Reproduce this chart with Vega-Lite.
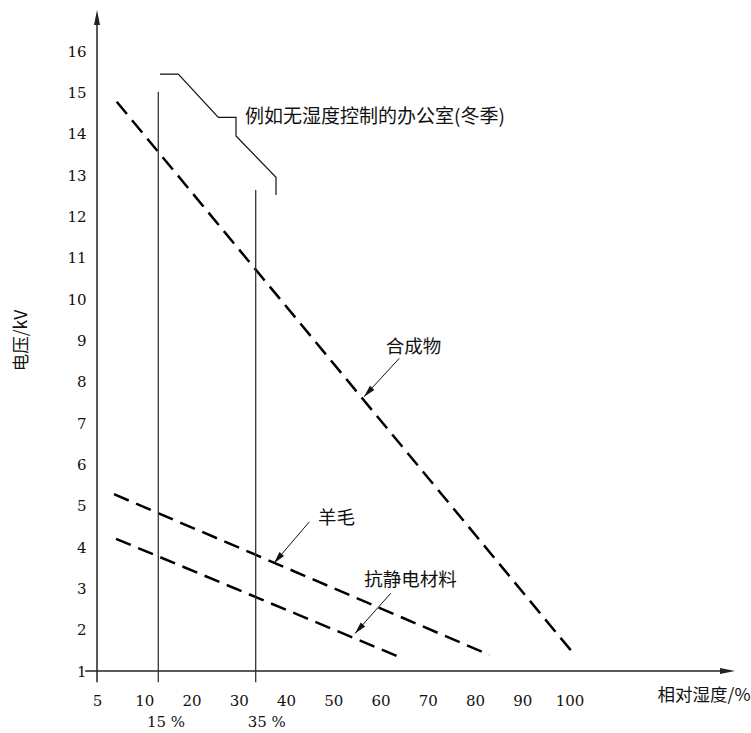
{
  "$schema": "https://vega.github.io/schema/vega-lite/v6.json",
  "width": 638,
  "height": 661,
  "autosize": "none",
  "padding": {"left": 97, "top": 10, "right": 16, "bottom": 62},
  "background": "white",
  "config": {
    "view": {"stroke": null},
    "axis": {
      "domain": false,
      "ticks": false,
      "tickSize": 0,
      "grid": false,
      "labelFont": "DejaVu Serif",
      "labelFontSize": 15,
      "labelColor": "#111111",
      "titleFont": "Noto Sans CJK SC",
      "titleFontWeight": "normal",
      "titleFontSize": 17.5,
      "titleColor": "#111111"
    }
  },
  "datasets": {
    "axes": [
      {"x": -2.5, "y": 1, "x2": 134, "y2": 1},
      {"x": 0, "y": 0.73, "x2": 0, "y2": 16.7}
    ],
    "axisHeads": [
      {"x": 0, "y": 17, "angle": 0},
      {"x": 135, "y": 1, "angle": 90}
    ],
    "curves": [
      {"series": "合成物", "humidity": 4.17, "voltage": 14.78},
      {"series": "合成物", "humidity": 100.78, "voltage": 1.43},
      {"series": "羊毛", "humidity": 3.6, "voltage": 5.28},
      {"series": "羊毛", "humidity": 83.01, "voltage": 1.39},
      {"series": "抗静电材料", "humidity": 4.02, "voltage": 4.2},
      {"series": "抗静电材料", "humidity": 63.75, "voltage": 1.35}
    ],
    "verticals": [
      {"humidity": 12.97, "low": 0.73, "high": 15.02},
      {"humidity": 33.58, "low": 0.73, "high": 12.64}
    ],
    "bracket": [
      {"i": 0, "humidity": 13.33, "voltage": 15.45},
      {"i": 1, "humidity": 17.2, "voltage": 15.45},
      {"i": 2, "humidity": 25.67, "voltage": 14.4},
      {"i": 3, "humidity": 29.41, "voltage": 14.4},
      {"i": 4, "humidity": 29.41, "voltage": 13.95},
      {"i": 5, "humidity": 37.88, "voltage": 12.95},
      {"i": 6, "humidity": 37.88, "voltage": 12.52}
    ],
    "pointers": [
      {"label": "合成物", "x": 63.97, "y": 8.57, "tx": 56.5, "ty": 7.64, "angle": 222.6},
      {"label": "羊毛", "x": 44.92, "y": 4.61, "tx": 37.45, "ty": 3.61, "angle": 220.3},
      {"label": "抗静电材料", "x": 62.15, "y": 2.88, "tx": 54.59, "ty": 1.91, "angle": 221.7}
    ],
    "labels": [
      {"text": "合成物", "humidity": 66.97, "voltage": 8.84},
      {"text": "羊毛", "humidity": 50.68, "voltage": 4.7},
      {"text": "抗静电材料", "humidity": 66.33, "voltage": 3.2}
    ],
    "note": [
      {"text": "例如无湿度控制的办公室(冬季)", "humidity": 31.32, "voltage": 14.41}
    ],
    "pct": [
      {"text": "15 %", "humidity": 14.6, "voltage": -0.23},
      {"text": "35 %", "humidity": 35.91, "voltage": -0.23}
    ]
  },
  "layer": [
    {
      "data": {"name": "axes"},
      "mark": {"type": "rule", "stroke": "#222222", "strokeWidth": 1.5},
      "encoding": {
        "x": {
          "field": "x", "type": "quantitative",
          "scale": {"domain": [0, 135], "nice": false, "zero": false},
          "axis": {
            "values": [0, 10, 20, 30, 40, 50, 60, 70, 80, 90, 100],
            "labelExpr": "datum.value == 0 ? '5' : datum.label",
            "labelBaseline": "alphabetic",
            "labelPadding": 34.5,
            "labelFlush": false,
            "labelOverlap": false,
            "title": "相对湿度/%",
            "titleX": 653,
            "titleY": 24,
            "titleAlign": "right",
            "titleBaseline": "middle"
          }
        },
        "y": {
          "field": "y", "type": "quantitative",
          "scale": {"domain": [1, 17], "nice": false, "zero": false},
          "axis": {
            "values": [1, 2, 3, 4, 5, 6, 7, 8, 9, 10, 11, 12, 13, 14, 15, 16],
            "labelPadding": 11,
            "labelBaseline": "middle",
            "labelFlush": false,
            "labelOverlap": false,
            "title": "电压/kV",
            "titleAngle": -90,
            "titleX": -76,
            "titleY": 330,
            "titleAlign": "center",
            "titleBaseline": "middle"
          }
        },
        "x2": {"field": "x2"},
        "y2": {"field": "y2"}
      }
    },
    {
      "data": {"name": "axisHeads"},
      "mark": {"type": "point", "shape": "M0,0 L0.6,3 L-0.6,3 Z", "filled": true, "fill": "#222222", "strokeWidth": 0, "size": 100, "opacity": 1},
      "encoding": {
        "x": {"field": "x", "type": "quantitative"},
        "y": {"field": "y", "type": "quantitative"},
        "angle": {"field": "angle", "type": "quantitative", "scale": null}
      }
    },
    {
      "data": {"name": "curves"},
      "mark": {"type": "line", "stroke": "#000000", "strokeWidth": 2.5, "strokeDash": [16, 8]},
      "encoding": {
        "x": {"field": "humidity", "type": "quantitative"},
        "y": {"field": "voltage", "type": "quantitative"},
        "detail": {"field": "series", "type": "nominal"}
      }
    },
    {
      "data": {"name": "verticals"},
      "mark": {"type": "rule", "stroke": "#333333", "strokeWidth": 1.3},
      "encoding": {
        "x": {"field": "humidity", "type": "quantitative"},
        "y": {"field": "low", "type": "quantitative"},
        "y2": {"field": "high"}
      }
    },
    {
      "data": {"name": "bracket"},
      "mark": {"type": "line", "stroke": "#111111", "strokeWidth": 1.2},
      "encoding": {
        "x": {"field": "humidity", "type": "quantitative"},
        "y": {"field": "voltage", "type": "quantitative"},
        "order": {"field": "i", "type": "quantitative"}
      }
    },
    {
      "data": {"name": "pointers"},
      "mark": {"type": "rule", "stroke": "#111111", "strokeWidth": 1},
      "encoding": {
        "x": {"field": "x", "type": "quantitative"},
        "y": {"field": "y", "type": "quantitative"},
        "x2": {"field": "tx"},
        "y2": {"field": "ty"}
      }
    },
    {
      "data": {"name": "pointers"},
      "mark": {"type": "point", "shape": "M0,0 L0.75,3 L-0.75,3 Z", "filled": true, "fill": "#111111", "strokeWidth": 0, "size": 64, "opacity": 1},
      "encoding": {
        "x": {"field": "tx", "type": "quantitative"},
        "y": {"field": "ty", "type": "quantitative"},
        "angle": {"field": "angle", "type": "quantitative", "scale": null}
      }
    },
    {
      "data": {"name": "labels"},
      "mark": {"type": "text", "font": "Noto Sans CJK SC", "fontSize": 18.5, "align": "center", "baseline": "middle", "fill": "#111111"},
      "encoding": {
        "x": {"field": "humidity", "type": "quantitative"},
        "y": {"field": "voltage", "type": "quantitative"},
        "text": {"field": "text"}
      }
    },
    {
      "data": {"name": "note"},
      "mark": {"type": "text", "font": "Noto Sans CJK SC", "fontSize": 19, "align": "left", "baseline": "middle", "fill": "#111111"},
      "encoding": {
        "x": {"field": "humidity", "type": "quantitative"},
        "y": {"field": "voltage", "type": "quantitative"},
        "text": {"field": "text"}
      }
    },
    {
      "data": {"name": "pct"},
      "mark": {"type": "text", "font": "DejaVu Serif", "fontSize": 15, "align": "center", "baseline": "middle", "fill": "#111111"},
      "encoding": {
        "x": {"field": "humidity", "type": "quantitative"},
        "y": {"field": "voltage", "type": "quantitative"},
        "text": {"field": "text"}
      }
    }
  ]
}
